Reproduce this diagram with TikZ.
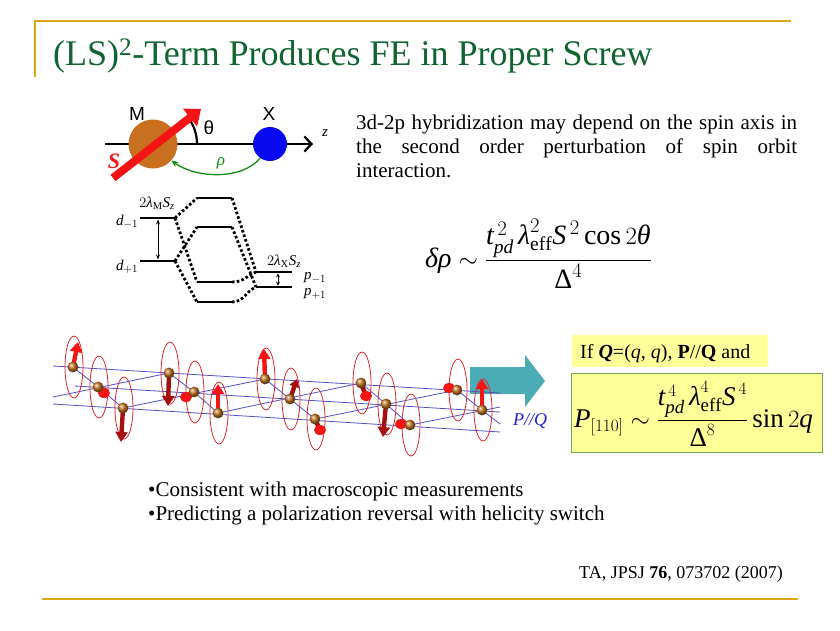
\documentclass[tikz,border=0pt]{standalone}
\usepackage{amsmath}
\usepackage{fontspec}
\setmainfont{Liberation Serif}
\setsansfont{Liberation Sans}
\usetikzlibrary{arrows.meta}
\newcommand\mi[1]{\textit{#1}}
\definecolor{gold}{RGB}{221,168,20}
\definecolor{titlegreen}{RGB}{16,100,48}
\definecolor{brownM}{RGB}{200,112,32}
\definecolor{blueX}{RGB}{10,10,240}
\definecolor{spinred}{RGB}{245,20,20}
\definecolor{spindark}{RGB}{165,15,15}
\definecolor{ballbrown}{RGB}{195,115,30}
\definecolor{railblue}{RGB}{80,80,200}
\definecolor{tealarrow}{RGB}{75,172,182}
\definecolor{boxyellow}{RGB}{255,255,153}
\definecolor{boxgreen}{RGB}{110,170,80}
\definecolor{rhogreen}{RGB}{20,140,20}
\definecolor{ellred}{RGB}{225,40,40}
\definecolor{pqblue}{RGB}{30,30,230}
\begin{document}
\begin{tikzpicture}[x=1pt,y=-1pt,
  goldline/.style={gold,line width=1.6pt},
  level/.style={line width=2.4pt,black},
  dots/.style={line width=2.8pt,dash pattern=on 2.6pt off 2.2pt},
  rail/.style={railblue,line width=0.8pt},
  ell/.style={ellred,line width=0.8pt},
  spinarrow/.style={line width=4.4pt,-{Triangle[width=12pt,length=10pt]}},
  lbl/.style={inner sep=0pt,font=\fontsize{15}{18}\selectfont}
]
\useasboundingbox (0,0) rectangle (840,630);
% frame lines
\draw[goldline] (35,21) -- (791,21);
\draw[goldline] (35,20.2) -- (35,77);
\draw[goldline] (42,599) -- (798,599);
% title
\node[anchor=base west,inner sep=0pt,text=titlegreen,font=\fontsize{36}{40}\selectfont] (title) at (53,65) {(LS)\textsuperscript{2}-Term Produces FE in Proper Screw};

% ---------- M - X diagram ----------
\coordinate (axS) at (105,144);
\coordinate (axE) at (313,144);
\draw[line width=2.3pt,-{Straight Barb[length=7pt,width=15pt,line width=2.3pt]}] (axS) -- (axE);
\node[circle,fill=brownM,minimum size=49pt,inner sep=0pt] (M) at (153,144) {};
\node[circle,fill=blueX,minimum size=34pt,inner sep=0pt] (X) at (270,144) {};
\draw[line width=2.2pt] (197,144) arc[start angle=0,end angle=-38,radius=44];
\coordinate (Stail) at (113,178);
\coordinate (Stip) at (201,109);
\draw[spinred,line width=8pt,-{Triangle[width=22pt,length=14pt]}] (Stail) -- (Stip);
\draw[rhogreen,line width=1.3pt,-{Stealth[length=7pt,width=6pt]}] (X.235) .. controls +(-18,22) and +(25,18) .. (M.-42);
\node[inner sep=0pt,font=\sffamily\fontsize{19}{22}\selectfont] (Mlab) at (137,114) {M};
\node[inner sep=0pt,font=\sffamily\fontsize{19}{22}\selectfont] (Xlab) at (269,114) {X};
\node[inner sep=0pt,font=\sffamily\fontsize{19}{22}\selectfont] (thlab) at (209,128) {θ};
\node[inner sep=0pt,font=\itshape\fontsize{15}{18}\selectfont] (zlab) at (325,133) {z};
\node[inner sep=0pt,text=spinred,font=\bfseries\itshape\fontsize{22}{26}\selectfont] (Slab) at (114,161) {S};
\node[inner sep=0pt,text=rhogreen,font=\itshape\fontsize{17}{20}\selectfont] (rholab) at (221,163) {ρ};

% ---------- energy levels ----------
\coordinate (dmL) at (140,218); \coordinate (dmR) at (175,218);
\coordinate (dpL) at (140,261); \coordinate (dpR) at (175,261);
\coordinate (aL) at (197,198); \coordinate (aR) at (232,198);
\coordinate (bL) at (197,227); \coordinate (bR) at (232,227);
\coordinate (cL) at (197,282); \coordinate (cR) at (232,282);
\coordinate (eL) at (197,302); \coordinate (eR) at (232,302);
\coordinate (pmL) at (256,272); \coordinate (pmR) at (292,272);
\coordinate (ppL) at (256,287); \coordinate (ppR) at (292,287);
\foreach \a/\b in {dmL/dmR,dpL/dpR,aL/aR,bL/bR,cL/cR,eL/eR,pmL/pmR,ppL/ppR}
  \draw[level] (\a) -- (\b);
\draw[dots] (dmR) -- (aL);
\draw[dots] (dmR) -- (cL);
\draw[dots] (dpR) -- (bL);
\draw[dots] (dpR) -- (eL);
\draw[dots] (aR) -- (pmL);
\draw[dots] (bR) -- (ppL);
\draw[dots] (cR) .. controls +(12,0) and +(-10,4) .. (pmL);
\draw[dots] (eR) .. controls +(12,0) and +(-10,4) .. (ppL);
\coordinate (dArT) at (158,219.5); \coordinate (dArB) at (158,259.5);
\draw[line width=0.8pt,{Stealth[length=5pt,width=4pt]}-{Stealth[length=5pt,width=4pt]}] (dArT) -- (dArB);
\coordinate (pArT) at (278,273.3); \coordinate (pArB) at (278,285.7);
\draw[line width=0.8pt,{Stealth[length=4pt,width=4pt]}-{Stealth[length=4pt,width=4pt]}] (pArT) -- (pArB);
\node[lbl] (lamM) at (157,203) {$2\mi{λ}_{\mathrm{M}}\mi{S}_{\mi{z}}$};
\node[lbl] (lamX) at (284,261) {$2\mi{λ}_{\mathrm{X}}\mi{S}_{\mi{z}}$};
\node[lbl] (dm) at (127,222) {$\mi{d}_{-1}$};
\node[lbl] (dp) at (127,267) {$\mi{d}_{+1}$};
\node[lbl] (pm) at (315,278) {$\mi{p}_{-1}$};
\node[lbl] (pp) at (315,294) {$\mi{p}_{+1}$};

% ---------- paragraph ----------
\node[anchor=north west,inner sep=0pt,text width=441pt,align=justify,font=\fontsize{21}{24}\selectfont] (para) at (356,115)
 {\tolerance=10000 3d-2p hybridization may depend on the spin axis in\linebreak the second order perturbation of spin orbit\linebreak \mbox{interaction.}};

% ---------- delta rho formula ----------
\node[anchor=base west,inner sep=0pt,font=\fontsize{28}{32}\selectfont] (drho) at (425,267)
 {$\mi{δρ}\sim\dfrac{\mi{t}^{\,2}_{\mi{pd}}\,\mi{λ}^{2}_{\mathrm{eff}}\mi{S}^{\,2}\cos 2\mi{θ}}{\textup{Δ}^{4}}$};

% ---------- helix ----------
\fill[tealarrow] (470,367) -- (525,367) -- (525,355) -- (545,381) -- (525,407) -- (525,394) -- (470,394) -- cycle;
\coordinate (b1) at (73,367);  \coordinate (b2) at (98,387);  \coordinate (b3) at (123,408);
\coordinate (b4) at (169,373); \coordinate (b5) at (194,392); \coordinate (b6) at (218,413);
\coordinate (b7) at (265,379); \coordinate (b8) at (290,399); \coordinate (b9) at (315,419);
\coordinate (b10) at (361,383); \coordinate (b11) at (386,404); \coordinate (b12) at (410,425);
\coordinate (b13) at (457,390); \coordinate (b14) at (482,410);
\coordinate (r1s) at (53,366); \coordinate (r1e) at (500,393);
\coordinate (r2s) at (75,386); \coordinate (r2e) at (500,412);
\coordinate (r3s) at (53,404); \coordinate (r3e) at (500,432);
\coordinate (z0) at (53,397); \coordinate (z5) at (500,407);
\coordinate (s5) at (500,424);
\draw[rail] (r1s) -- (r1e);
\draw[rail] (r2s) -- (r2e);
\draw[rail] (r3s) -- (r3e);
\draw[rail] (b1) -- (b2) -- (b3);
\draw[rail] (b4) -- (b5) -- (b6);
\draw[rail] (b7) -- (b8) -- (b9);
\draw[rail] (b10) -- (b11) -- (b12);
\draw[rail] (b13) -- (b14) -- (s5);
\draw[rail] (z0) -- (b4);
\draw[rail] (b3) -- (b7);
\draw[rail] (b6) -- (b10);
\draw[rail] (b9) -- (b13);
\draw[rail] (b12) -- (z5);
\foreach \i in {1,...,14}
  \draw[ell] ([xshift=1pt]b\i) ellipse[x radius=9,y radius=31];
% spins along axis
\draw[spinarrow,spinred] (b1) -- (78,342);
\draw[spinarrow,spindark] (b3) -- (121,442);
\draw[spinarrow,spindark] (b4) -- (168,406);
\draw[spinarrow,spinred] (b6) -- (218,384);
\draw[spinarrow,spinred] (b7) -- (264,349);
\draw[line width=4.4pt,spindark,-{Triangle[width=10pt,length=8pt]}] (b8) -- (297,379);
\draw[spinarrow,spindark] (b11) -- (383,437);
\draw[spinarrow,spinred] (b14) -- (482,379);
% spins towards viewer
\foreach \b/\x/\y in {b2/104/393,b5/186/397,b9/320/430,b10/366/396,b12/401/424,b13/449/388}{
  \draw[line width=4.6pt,spindark] (\b) -- (\x,\y);
  \fill[spinred] (\x,\y) ellipse[x radius=6,y radius=5];
}
\foreach \i in {1,...,14}
  \shade[ball color=ballbrown] (b\i) circle[radius=5.4];
\node[anchor=base west,inner sep=0pt,text=pqblue,font=\itshape\fontsize{18}{22}\selectfont] (PQ) at (513,425) {P//Q};

% ---------- boxes ----------
\node[anchor=north west,fill=boxyellow,minimum width=196pt,minimum height=32pt,inner sep=0pt] (box1) at (572,335) {};
\node[anchor=base west,inner sep=0pt,font=\fontsize{20}{24}\selectfont] (box1txt) at (580,358)
 {If \textbf{\textit{Q}}=(\textit{q}, \textit{q}), \textbf{P}//\textbf{Q} and};
\node[anchor=north west,fill=boxyellow,draw=boxgreen,line width=1.2pt,minimum width=251pt,minimum height=79pt,inner sep=0pt] (box2) at (571,373) {};
\node[anchor=base west,inner sep=0pt,font=\fontsize{27}{32}\selectfont] (Pform) at (574,427)
 {$\mi{P}_{[110]}\sim\dfrac{\mi{t}^{\,4}_{\mi{pd}}\,\mi{λ}^{4}_{\mathrm{eff}}\mi{S}^{\,4}}{\textup{Δ}^{8}}\sin 2\mi{q}$};

% ---------- bullets ----------
\node[anchor=base west,inner sep=0pt,font=\fontsize{21}{24}\selectfont] (bul1) at (148,496) {•Consistent with macroscopic measurements};
\node[anchor=base west,inner sep=0pt,font=\fontsize{21}{24}\selectfont] (bul2) at (148,520) {•Predicting a polarization reversal with helicity switch};
\node[anchor=base east,inner sep=0pt,font=\fontsize{18}{22}\selectfont] (ref) at (783,578) {TA, JPSJ \textbf{76}, 073702 (2007)};
\end{tikzpicture}
\end{document}
